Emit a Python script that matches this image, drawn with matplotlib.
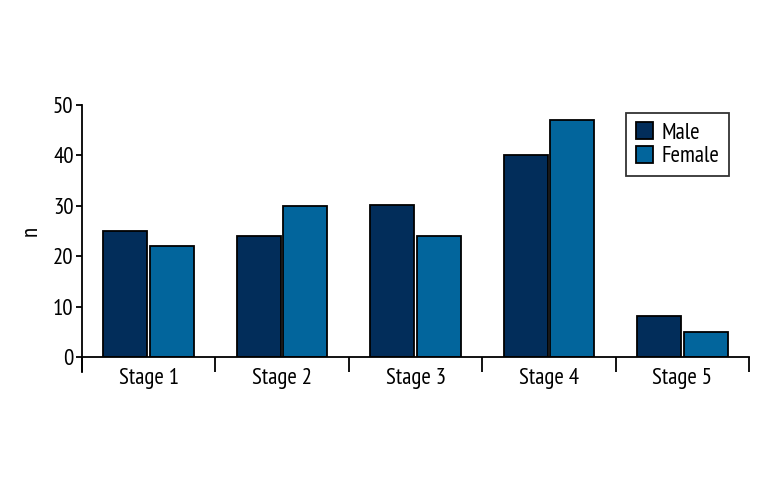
import matplotlib
matplotlib.use("Agg")
import matplotlib.pyplot as plt
import numpy as np
from matplotlib.ticker import FixedLocator, NullFormatter

categories = ["Stage 1", "Stage 2", "Stage 3", "Stage 4", "Stage 5"]
male = [25, 24, 30.2, 40, 8.2]
female = [22, 30, 24, 47, 5]
series_names = ["Male", "Female"]
yticks = [0, 10, 20, 30, 40, 50]

plt.rcParams['font.family'] = ['PT Sans Narrow', 'DejaVu Sans']
FS = 16.5

fig = plt.figure(figsize=(7.68, 4.8), dpi=100)
ax = fig.add_axes([82/768, 123/480, 667/768, 252/480])

x = np.arange(len(categories))
w = 0.33
off = 0.175
ax.bar(x - off, male, w, color="#022d5a", edgecolor="black", linewidth=1.3, label=series_names[0], zorder=2)
ax.bar(x + off, female, w, color="#02659c", edgecolor="black", linewidth=1.3, label=series_names[1], zorder=2)

ax.set_xlim(-0.5, len(categories) - 0.5)
ax.set_ylim(0, 50)
ax.set_yticks(yticks)
ax.set_xticks(x)
ax.set_xticklabels(categories, fontsize=FS)
ax.xaxis.set_minor_locator(FixedLocator(np.arange(-0.5, len(categories), 1.0)))
ax.xaxis.set_minor_formatter(NullFormatter())
ax.tick_params(axis='x', which='major', length=0, pad=8)
ax.tick_params(axis='x', which='minor', length=11, width=1.3, direction='out')
ax.tick_params(axis='y', length=4, width=1.3, labelsize=FS, pad=2)

for s in ['top', 'right']:
    ax.spines[s].set_visible(False)
for s in ['left', 'bottom']:
    ax.spines[s].set_linewidth(1.3)
ax.spines['left'].set_bounds(-3, 50)

ax.set_ylabel("n", fontsize=FS, labelpad=8)

leg = ax.legend(loc='upper right', bbox_to_anchor=(729/768, 1 - 113/480), bbox_transform=fig.transFigure,
                fontsize=FS, frameon=True, fancybox=False, edgecolor='black',
                handlelength=0.75, handleheight=0.75, handletextpad=0.4, borderpad=0.4,
                labelspacing=0.1, borderaxespad=0)
leg.get_frame().set_linewidth(1.3)

fig.savefig("out.png", dpi=100)
